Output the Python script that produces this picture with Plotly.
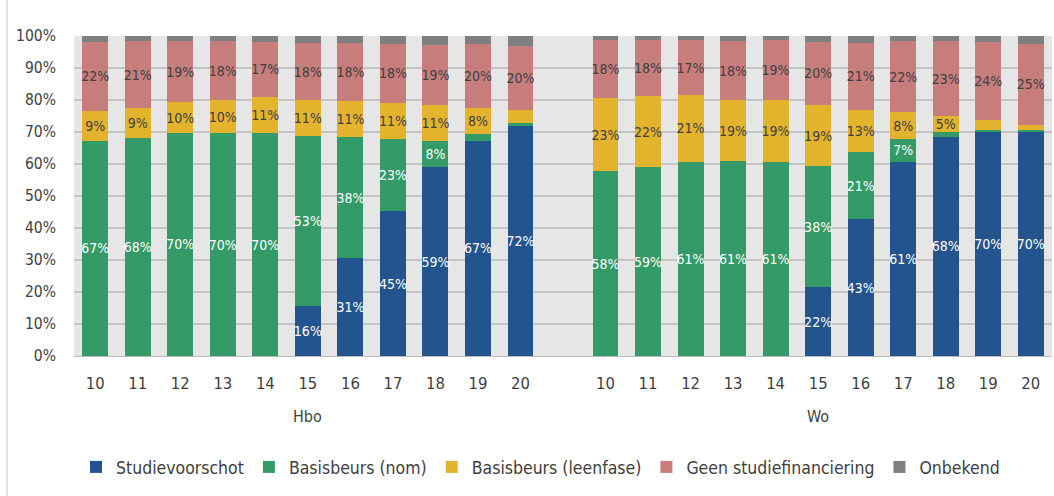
import plotly.graph_objects as go

years = ["10", "11", "12", "13", "14", "15", "16", "17", "18", "19", "20"]
groups = ["Hbo", "Wo"]

series_names = ["Studievoorschot", "Basisbeurs (nom)", "Basisbeurs (leenfase)",
                "Geen studiefinanciering", "Onbekend"]
colors = ["#23548E", "#349A67", "#E3B32E", "#C67D7C", "#7F7F7F"]
label_colors = ["#FFFFFF", "#FFFFFF", "#404040", "#404040", "#404040"]

# Hbo
hbo_voorschot = [0, 0, 0, 0, 0, 15.7, 30.6, 45.2, 59.0, 67.2, 71.9]
hbo_nom = [67.2, 68.1, 69.7, 69.6, 69.6, 53.0, 37.8, 22.7, 8.1, 2.2, 0.8]
hbo_leen = [9.4, 9.4, 9.6, 10.3, 11.3, 11.2, 11.3, 11.3, 11.4, 8.2, 4.2]
hbo_geen = [21.6, 20.8, 19.1, 18.4, 17.3, 17.9, 18.1, 18.4, 18.8, 19.8, 19.9]

# Wo
wo_voorschot = [0, 0, 0, 0, 0, 21.5, 42.8, 60.7, 68.5, 70.0, 70.2]
wo_nom = [57.8, 59.0, 60.6, 60.9, 60.6, 37.8, 20.8, 7.1, 1.6, 0.6, 0.4]
wo_leen = [22.8, 22.1, 21.0, 19.1, 19.4, 19.1, 13.4, 8.3, 4.8, 3.1, 1.6]
wo_geen = [18.0, 17.6, 17.1, 18.4, 18.6, 19.8, 20.8, 22.2, 23.4, 24.4, 25.4]


def rest(*cols):
    return [round(100 - sum(v), 1) for v in zip(*cols)]


hbo_onbekend = rest(hbo_voorschot, hbo_nom, hbo_leen, hbo_geen)
wo_onbekend = rest(wo_voorschot, wo_nom, wo_leen, wo_geen)

hbo_series = [hbo_voorschot, hbo_nom, hbo_leen, hbo_geen, hbo_onbekend]
wo_series = [wo_voorschot, wo_nom, wo_leen, wo_geen, wo_onbekend]

n = len(years)
x_hbo = list(range(n))
x_wo = [n + 1 + i for i in range(n)]
xs = x_hbo + x_wo

FONT = "DejaVu Sans Condensed, Liberation Sans Narrow, Arial Narrow, sans-serif"
TXT = "#404040"

fig = go.Figure()
for k, name in enumerate(series_names):
    vals = hbo_series[k] + wo_series[k]
    if k < 4:
        txt = [f"{round(v):d}%" if round(v) >= 5 else "" for v in vals]
    else:
        txt = ["" for _ in vals]
    fig.add_trace(go.Bar(
        x=xs, y=vals, name=name,
        marker=dict(color=colors[k], line=dict(width=0)),
        text=txt, textposition="inside", insidetextanchor="middle",
        textangle=0, constraintext="none",
        textfont=dict(color=label_colors[k], size=14, family=FONT),
        hoverinfo="skip", width=0.61,
    ))

fig.update_layout(
    barmode="stack",
    width=1054, height=496,
    margin=dict(l=74, r=2, t=36, b=140, autoexpand=False),
    paper_bgcolor="white",
    plot_bgcolor="#E6E6E6",
    font=dict(family=FONT, size=16, color=TXT),
    showlegend=True,
    legend=dict(orientation="h", x=0.477, xanchor="center", y=-0.347,
                yanchor="middle", font=dict(size=17.5, color=TXT),
                itemwidth=30, traceorder="normal", tracegroupgap=0),
    xaxis=dict(
        range=[-0.5, 2 * n + 0.5], automargin=False,
        tickmode="array", tickvals=xs, ticktext=years + years,
        showgrid=False, zeroline=False,
        showline=True, linecolor="#BFBFBF", linewidth=1,
        ticks="outside", ticklen=12, tickcolor="rgba(0,0,0,0)",
        tickfont=dict(size=16.5, color=TXT),
    ),
    yaxis=dict(
        range=[0, 100], tickmode="array", automargin=False,
        tickvals=list(range(0, 101, 10)),
        ticktext=[f"{v}%" for v in range(0, 101, 10)],
        showgrid=True, gridcolor="#C4C4C4", gridwidth=1.5,
        zeroline=False, showline=False,
        ticks="outside", ticklen=14, tickcolor="rgba(0,0,0,0)",
        tickfont=dict(size=15.5, color=TXT),
    ),
    bargap=0.39,
)

for gi, g in enumerate(groups):
    xc = (x_hbo if gi == 0 else x_wo)[n // 2]
    fig.add_annotation(x=xc, y=-0.1875, xref="x", yref="paper",
                       text=g, showarrow=False, yanchor="middle",
                       font=dict(size=16, color=TXT, family=FONT))

fig.add_shape(type="line", xref="paper", yref="paper",
              x0=(7 - 74) / 978, x1=(7 - 74) / 978, y0=-140 / 320, y1=36 / 320 + 1,
              line=dict(color="#D9D9D9", width=1.5))

fig.write_html("out.html", config={"displayModeBar": False},
               post_script="document.body.style.margin='0';document.body.style.padding='0';")
